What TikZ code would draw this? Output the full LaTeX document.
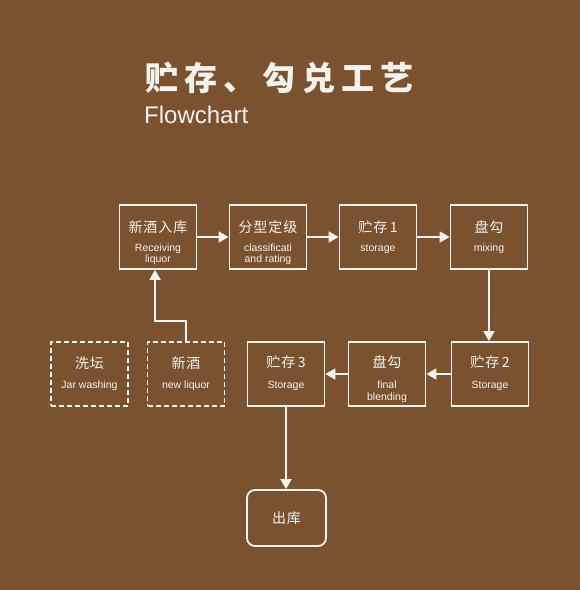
\documentclass[tikz,border=0pt]{standalone}
\usepackage{fontspec}
\setmainfont{Liberation Sans}
\newfontfamily\cjk[LetterSpace=7]{Noto Sans CJK SC}
\newfontfamily\cjkt[LetterSpace=19]{Noto Sans CJK SC}
\usetikzlibrary{arrows.meta,calc}
\definecolor{bg}{RGB}{122,82,48}
\definecolor{fg}{RGB}{246,243,238}
\begin{document}
\begin{tikzpicture}[x=1pt,y=-1pt,
 box/.style={draw=fg, line width=1.8pt, minimum width=77pt, minimum height=64pt, inner sep=0pt},
 dbox/.style={box, dash pattern=on 5pt off 3pt},
 outbox/.style={box, minimum width=79pt, minimum height=56pt, rounded corners=8pt},
 cn/.style={text=fg, inner sep=0pt, font=\cjk\fontsize{14}{16}\selectfont},
 en/.style={text=fg, inner sep=0pt, align=center, font=\fontsize{10.5}{11.5}\selectfont},
 arr/.style={draw=fg, line width=1.8pt, -{Triangle[length=10pt,width=11pt]}}]
\fill[bg] (0,0) rectangle (580,590);
\useasboundingbox (0,0) rectangle (580,590);
% title
\node[anchor=west, text=fg, inner sep=0pt, font=\cjkt\bfseries\fontsize{33}{36}\selectfont] (title) at (145,78) {贮存、勾兑工艺};
\node[anchor=base west, text=fg, inner sep=0pt, font=\fontsize{24}{27}\selectfont] (sub) at (144,123) {Flowchart};
% boxes row 1
\node[box] (b1) at (158,237) {};
\node[box] (b2) at (268,237) {};
\node[box] (b3) at (378,237) {};
\node[box] (b4) at (489,237) {};
% row 2
\node[box] (c2) at (490,374) {};
\node[box] (c1) at (387,374) {};
\node[box] (c3) at (286,374) {};
\node[dbox] (w) at (89.5,374) {};
\node[dbox] (n) at (186,374) {};
\node[outbox] (out) at (286.5,518) {};
% labels
\node[cn] (b1c) at ($(b1.north)+(0,23)$) {新酒入库};
\node[en] (b1e) at ($(b1.north)+(0,50)$) {Receiving\\liquor};
\node[cn] (b2c) at ($(b2.north)+(0,23)$) {分型定级};
\node[en] (b2e) at ($(b2.north)+(0,50)$) {classificati\\and rating};
\node[cn] (b3c) at ($(b3.north)+(0,23)$) {贮存\,1};
\node[en] (b3e) at ($(b3.north)+(0,45)$) {storage};
\node[cn] (b4c) at ($(b4.north)+(0,23)$) {盘勾};
\node[en] (b4e) at ($(b4.north)+(0,45)$) {mixing};
\node[cn] (c2c) at ($(c2.north)+(0,21)$) {贮存\,2};
\node[en] (c2e) at ($(c2.north)+(0,45)$) {Storage};
\node[cn] (c1c) at ($(c1.north)+(0,21)$) {盘勾};
\node[en] (c1e) at ($(c1.north)+(0,50.5)$) {final\\blending};
\node[cn] (c3c) at ($(c3.north)+(0,21)$) {贮存\,3};
\node[en] (c3e) at ($(c3.north)+(0,45)$) {Storage};
\node[cn] (wc) at ($(w.north)+(0,22)$) {洗坛};
\node[en] (we) at ($(w.north)+(0,45)$) {Jar washing};
\node[cn] (nc) at ($(n.north)+(0,22)$) {新酒};
\node[en] (ne) at ($(n.north)+(0,45)$) {new liquor};
\node[cn] (outc) at (out.center) {出库};
% connectors
\draw[arr] (b1.east) -- (b2.west);
\draw[arr] (b2.east) -- (b3.west);
\draw[arr] (b3.east) -- (b4.west);
\draw[arr] (b4.south) -- (b4.south |- c2.north);
\draw[arr] (c2.west) -- (c1.east);
\draw[arr] (c1.west) -- (c3.east);
\draw[arr] (c3.south) -- (c3.south |- out.north);
\draw[arr] (n.north) -- ++(0,-20) -| ([xshift=-3pt]b1.south);
\end{tikzpicture}
\end{document}
